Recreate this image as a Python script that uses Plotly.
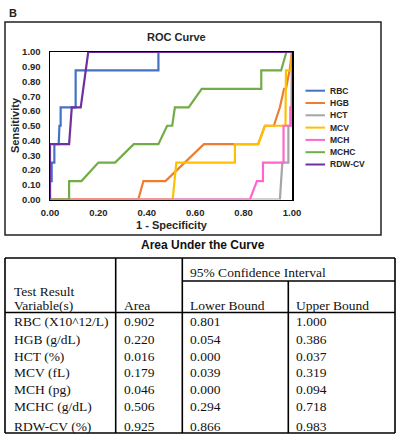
import plotly.graph_objects as go

# ---------------- data ----------------
series_names = ["RBC", "HGB", "HCT", "MCV", "MCH", "MCHC", "RDW-CV"]
series_colors = ["#4472C4", "#ED7D31", "#A5A5A5", "#FFC000", "#FF66CC", "#70AD47", "#7030A0"]

rbc_fpr = [0, 0, 0.007, 0.007, 0.018, 0.018, 0.036, 0.039, 0.044, 0.044, 0.106, 0.106, 0.448, 0.448, 1.0]
rbc_tpr = [0, 0.125, 0.125, 0.25, 0.25, 0.375, 0.375, 0.5, 0.5, 0.625, 0.625, 0.875, 0.875, 1.0, 1.0]

hgb_fpr = [0, 0.365, 0.386, 0.477, 0.636, 0.86, 0.888, 0.925, 0.95, 0.967, 0.975, 0.99, 1.0]
hgb_tpr = [0, 0, 0.125, 0.125, 0.375, 0.375, 0.5, 0.5, 0.625, 0.75, 0.75, 0.875, 1.0]

hct_fpr = [0, 0.95, 0.955, 0.96, 0.985, 0.985, 0.997, 0.997, 1.0, 1.0]
hct_tpr = [0, 0, 0.125, 0.25, 0.25, 0.5, 0.5, 0.625, 0.625, 1.0]

mcv_fpr = [0, 0.507, 0.522, 0.764, 0.764, 0.861, 0.888, 0.973, 0.975, 0.995, 1.0]
mcv_tpr = [0, 0, 0.25, 0.25, 0.375, 0.375, 0.5, 0.5, 0.875, 0.875, 1.0]

mch_fpr = [0, 0.826, 0.855, 0.88, 0.88, 0.965, 0.965, 0.993, 0.993, 1.0, 1.0]
mch_tpr = [0, 0, 0.125, 0.125, 0.25, 0.25, 0.5, 0.5, 0.625, 0.625, 1.0]

mchc_fpr = [0, 0.079, 0.079, 0.13, 0.2, 0.269, 0.346, 0.448, 0.484, 0.505, 0.516, 0.573, 0.627, 0.873, 0.873, 0.955, 0.977, 1.0]
mchc_tpr = [0, 0, 0.125, 0.125, 0.25, 0.25, 0.375, 0.375, 0.5, 0.5, 0.625, 0.625, 0.75, 0.75, 0.875, 0.875, 1.0, 1.0]

rdw_fpr = [0, 0, 0.079, 0.09, 0.127, 0.158, 1.0]
rdw_tpr = [0, 0.375, 0.375, 0.625, 0.625, 1.0, 1.0]

series_fpr = [rbc_fpr, hgb_fpr, hct_fpr, mcv_fpr, mch_fpr, mchc_fpr, rdw_fpr]
series_tpr = [rbc_tpr, hgb_tpr, hct_tpr, mcv_tpr, mch_tpr, mchc_tpr, rdw_tpr]

x_ticks = [0, 0.2, 0.4, 0.6, 0.8, 1.0]
y_ticks = [0, 0.1, 0.2, 0.3, 0.4, 0.5, 0.6, 0.7, 0.8, 0.9, 1.0]

table_title = "Area Under the Curve"
table_variables = ["RBC (X10^12/L)", "HGB (g/dL)", "HCT (%)", "MCV (fL)", "MCH (pg)", "MCHC (g/dL)", "RDW-CV (%)"]
table_area = ["0.902", "0.220", "0.016", "0.179", "0.046", "0.506", "0.925"]
table_lower = ["0.801", "0.054", "0.000", "0.039", "0.000", "0.294", "0.866"]
table_upper = ["1.000", "0.386", "0.037", "0.319", "0.094", "0.718", "0.983"]

# ---------------- layout helpers ----------------
W, H = 408, 440


def px(x):
    return x / W


def py(y):
    return 1 - y / H


SANS = "Liberation Sans, Arial, sans-serif"
SERIF = "Liberation Serif, Times New Roman, serif"
TXT = "#262626"

fig = go.Figure()
for name, color, xs, ys in zip(series_names, series_colors, series_fpr, series_tpr):
    fig.add_trace(go.Scatter(x=xs, y=ys, mode="lines", name=name,
                             line=dict(color=color, width=2.2),
                             cliponaxis=False, showlegend=False, hoverinfo="skip"))

axis_common = dict(range=[0, 1], showgrid=False, zeroline=False, showline=True, mirror=True,
                   linecolor="black", linewidth=1.5, layer="below traces", ticks="",
                   tickformat=".2f", tickfont=dict(family=SANS, size=9.5, color=TXT, weight="bold"))

fig.update_layout(
    width=W, height=H,
    margin=dict(l=0, r=0, t=0, b=0, autoexpand=False),
    paper_bgcolor="white", plot_bgcolor="white", showlegend=False,
    xaxis=dict(domain=[px(50), px(292)], tickvals=x_ticks, ticklabelstandoff=4, **axis_common),
    yaxis=dict(domain=[py(199.5), py(52)], tickvals=y_ticks, ticklabelstandoff=6, **axis_common),
)

shapes = []
annotations = []

# chart outer border
shapes.append(dict(type="rect", xref="paper", yref="paper", x0=px(5), x1=px(381), y0=py(235), y1=py(22),
                   line=dict(color="#222", width=1.5)))

annotations.append(dict(text="B", x=px(7), y=py(13), xref="paper", yref="paper", xanchor="left", yanchor="middle",
                        showarrow=False, font=dict(family=SANS, size=11, color="#222", weight="bold")))
annotations.append(dict(text="ROC Curve", x=px(176), y=py(37.5), xref="paper", yref="paper", xanchor="center",
                        yanchor="middle", showarrow=False, font=dict(family=SANS, size=11, color=TXT, weight="bold")))
annotations.append(dict(text="1 - Specificity", x=px(172), y=py(225), xref="paper", yref="paper", xanchor="center",
                        yanchor="middle", showarrow=False, font=dict(family=SANS, size=11, color=TXT, weight="bold")))
annotations.append(dict(text="Sensitivity", x=px(15), y=py(125), xref="paper", yref="paper", xanchor="center",
                        yanchor="middle", textangle=-90, showarrow=False,
                        font=dict(family=SANS, size=11, color=TXT, weight="bold")))

# legend
leg_top, leg_step = 90.7, 12.3
for i, (name, color) in enumerate(zip(series_names, series_colors)):
    yy = leg_top + i * leg_step
    shapes.append(dict(type="line", xref="paper", yref="paper", x0=px(305.5), x1=px(325), y0=py(yy), y1=py(yy),
                       line=dict(color=color, width=2)))
    annotations.append(dict(text=name, x=px(328), y=py(yy), xref="paper", yref="paper", xanchor="left",
                            yanchor="middle", showarrow=False,
                            font=dict(family=SANS, size=8.5, color=TXT, weight="bold")))

# table
annotations.append(dict(text=table_title, x=px(203), y=py(245), xref="paper", yref="paper", xanchor="center",
                        yanchor="middle", showarrow=False, font=dict(family=SANS, size=12, color="#111", weight="bold")))

col_x = [5, 115.7, 182.3, 288.3, 395]
t_top, t_ci, t_head, t_bot = 258, 281, 312.5, 433
lw = 1.6
for j, cx in enumerate(col_x):
    y_start = t_ci if j == 3 else t_top
    shapes.append(dict(type="line", xref="paper", yref="paper", x0=px(cx), x1=px(cx), y0=py(y_start), y1=py(t_bot),
                       line=dict(color="black", width=lw)))
for (x0, x1, yy) in [(col_x[0], col_x[-1], t_top), (col_x[2], col_x[-1], t_ci),
                     (col_x[0], col_x[-1], t_head), (col_x[0], col_x[-1], t_bot)]:
    shapes.append(dict(type="line", xref="paper", yref="paper", x0=px(x0), x1=px(x1), y0=py(yy), y1=py(yy),
                       line=dict(color="black", width=lw)))


def cell(text, x, y):
    annotations.append(dict(text=text, x=px(x), y=py(y), xref="paper", yref="paper", xanchor="left",
                            yanchor="middle", showarrow=False, font=dict(family=SERIF, size=13.5, color="#111")))


pad = 6
cell("95% Confidence Interval", col_x[2] + pad, 272.5)
cell("Test Result", col_x[0] + 7, 291)
cell("Variable(s)", col_x[0] + 7, 305.5)
cell("Area", col_x[1] + pad, 305.5)
cell("Lower Bound", col_x[2] + pad, 305.5)
cell("Upper Bound", col_x[3] + pad, 305.5)

row_y = [321.7, 339.3, 356, 372.7, 389.3, 406.7, 426]
for yy, v, a, lo, up in zip(row_y, table_variables, table_area, table_lower, table_upper):
    cell(v, col_x[0] + 6.5, yy)
    cell(a, col_x[1] + pad, yy)
    cell(lo, col_x[2] + pad, yy)
    cell(up, col_x[3] + pad, yy)

fig.update_layout(shapes=shapes, annotations=annotations)
fig.write_html("out.html", config={"displayModeBar": False, "staticPlot": True},
               post_script="document.body.style.margin='0';document.body.style.padding='0';"
                           "document.body.style.overflow='hidden';")
